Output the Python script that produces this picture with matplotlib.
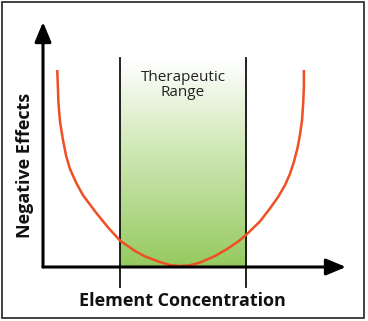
import numpy as np
import matplotlib.pyplot as plt
from matplotlib.patches import Rectangle
from matplotlib.colors import LinearSegmentedColormap

# krzywa U: stezenie pierwiastka -> negatywne skutki (jednostki umowne 0..10)
concentration = [0.47, 0.49, 0.51, 0.56, 0.65, 0.76, 0.89, 1.09, 1.32, 1.75,
                 2.15, 2.54, 3.04, 3.37, 3.86, 4.19, 4.52, 4.85, 5.18, 5.68,
                 6.11, 6.44, 6.72, 7.16, 7.49, 7.76, 7.99, 8.15, 8.28, 8.40,
                 8.48, 8.55, 8.59, 8.61, 8.61]
effects = [8.04, 7.39, 6.69, 5.95, 5.25, 4.55, 4.00, 3.45, 2.93, 2.22,
           1.61, 1.08, 0.65, 0.43, 0.20, 0.08, 0.04, 0.07, 0.18, 0.45,
           0.76, 1.04, 1.33, 1.86, 2.39, 2.86, 3.35, 3.80, 4.29, 4.86,
           5.39, 6.00, 6.74, 7.39, 8.04]
range_lo, range_hi = 2.54, 6.70
range_label = "Therapeutic\nRange"
x_label = "Element Concentration"
y_label = "Negative Effects"

W, H = 368, 321
fig = plt.figure(figsize=(W / 100, H / 100), dpi=100)
# os: poczatek w (43, 267) px, 10 jednostek na 303 px i 245 px
ax = fig.add_axes([43 / W, (H - 267) / H, 303 / W, 245 / H])
ax.set_xlim(0, 10)
ax.set_ylim(0, 10)
ax.axis('off')

# zielony gradient w zakresie terapeutycznym (bialy u gory, zielony na dole)
green = LinearSegmentedColormap.from_list(
    'g', [(0, '#ffffff'), (0.35, '#d9ecc4'), (1, '#96ca60')])
grad = np.linspace(0, 1, 100).reshape(-1, 1)
ax.imshow(grad, cmap=green, aspect='auto', extent=[range_lo, range_hi, 0, 8.5],
          zorder=1)

for xv in (range_lo, range_hi):
    ax.plot([xv, xv], [-0.82, 8.53], color='#111111', lw=1.3, clip_on=False,
            zorder=3)

ax.plot(concentration, effects, color='#f04e23', lw=1.8, clip_on=False,
        solid_joinstyle='round', solid_capstyle='butt', zorder=4)

# osie ze strzalkami
arrow = dict(arrowstyle='-|>,head_length=1.2,head_width=0.5', color='black',
             lw=2.2, shrinkA=0, shrinkB=0, mutation_scale=10)
ax.annotate('', xy=(0, 10), xytext=(0, 0), arrowprops=arrow, zorder=5)
ax.annotate('', xy=(10, 0), xytext=(0, 0), arrowprops=arrow, zorder=5)

ax.text((range_lo + range_hi) / 2, 7.43, range_label, ha='center', va='center',
        fontsize=11, family='Open Sans', color='#222222', linespacing=1.0,
        zorder=6)

fig.text(182 / W, 1 - 301 / H, x_label, ha='center', va='center',
         fontsize=13, fontweight='bold', family='Open Sans', color='#111111')
fig.text(25 / W, 1 - 165 / H, y_label, ha='center', va='center', rotation=90,
         fontsize=13, fontweight='bold', family='Open Sans', color='#111111')

# ramka dookola
fig.patches.append(Rectangle((1.5 / W, 1 - 318 / H), 362.5 / W, 316.5 / H,
                             transform=fig.transFigure, fill=False,
                             edgecolor='#333333', lw=1.3))

fig.savefig('out.png', dpi=100)
